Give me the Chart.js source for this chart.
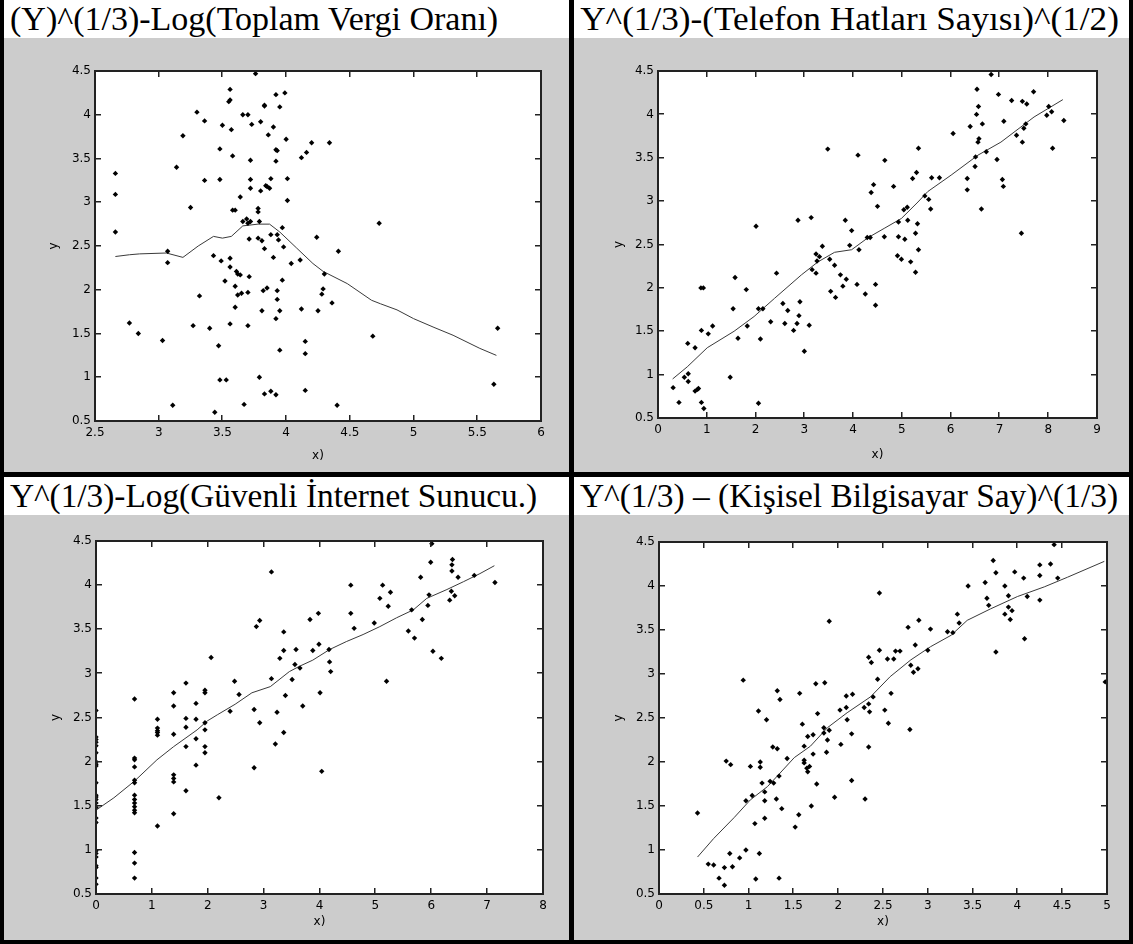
<!DOCTYPE html>
<html lang="tr">
<head>
<meta charset="UTF-8">
<title>Y^(1/3) saçılım grafikleri</title>
<script src="https://cdn.jsdelivr.net/npm/chart.js"></script>
<style>
    html, body { margin: 0; padding: 0; background: #000; }
    .sheet { position: relative; width: 1133px; height: 944px; background: #000; overflow: hidden; }
    .cell { position: absolute; background: #fff; overflow: hidden; }
    .cell h2 {
        margin: 0;
        height: 38px;
        line-height: 38px;
        padding-left: 6px;
        font-family: "Liberation Serif", "Times New Roman", serif;
        font-size: 34px;
        font-weight: normal;
        white-space: nowrap;
        color: #000;
        transform-origin: 0 50%;
    }
    .gray { position: absolute; left: 0; background: #ccc; }
    canvas { display: block; }
</style>
</head>
<body>
<div class="sheet">
    <div class="cell" style="left:4px;top:0;width:565px;height:472px">
        <h2>(Y)^(1/3)-Log(Toplam Vergi Oranı)</h2>
        <div class="gray" style="top:38px;width:565px;height:434px"><canvas id="c1" width="565" height="434"></canvas></div>
    </div>
    <div class="cell" style="left:574px;top:0;width:555px;height:472px">
        <h2 style="transform:scaleX(1.035)">Y^(1/3)-(Telefon Hatları Sayısı)^(1/2)</h2>
        <div class="gray" style="top:38px;width:555px;height:434px"><canvas id="c2" width="555" height="434"></canvas></div>
    </div>
    <div class="cell" style="left:4px;top:477px;width:565px;height:463px">
        <h2 style="transform:scaleX(0.98)">Y^(1/3)-Log(Güvenli İnternet Sunucu.)</h2>
        <div class="gray" style="top:38px;width:565px;height:425px"><canvas id="c3" width="565" height="425"></canvas></div>
    </div>
    <div class="cell" style="left:574px;top:477px;width:555px;height:463px">
        <h2 style="transform:scaleX(0.983)">Y^(1/3) – (Kişisel Bilgisayar Say)^(1/3)</h2>
        <div class="gray" style="top:38px;width:555px;height:425px"><canvas id="c4" width="555" height="425"></canvas></div>
    </div>
</div>

<script>
// --- data: [x, y] pairs ---
const vergiPoints = [
    [3.76,4.47],[3.56,4.29],[3.55,4.15],[3.56,4.17],[3.99,4.25],[3.92,4.23],[3.83,4.11],[3.83,4.10],[3.95,4.09],[3.30,4.03],
    [3.36,3.93],[3.66,4.00],[3.70,4.00],[3.73,3.89],[3.80,3.92],[3.50,3.88],[3.57,3.83],[3.90,3.86],[3.86,3.77],[3.19,3.76],
    [4.00,3.72],[3.48,3.61],[3.92,3.60],[3.93,3.59],[3.58,3.53],[3.14,3.40],[3.72,3.48],[3.92,3.47],[2.66,3.33],[3.36,3.25],
    [3.48,3.26],[3.72,3.26],[3.88,3.27],[4.01,3.27],[3.72,3.16],[3.80,3.13],[3.84,3.19],[3.85,3.18],[3.87,3.16],[2.66,3.09],
    [4.01,3.02],[3.64,3.06],[3.25,2.94],[3.58,2.91],[3.60,2.91],[3.78,2.93],[3.78,2.89],[3.69,2.81],[3.72,2.78],[3.70,2.76],
    [3.66,2.78],[3.79,2.78],[3.97,2.71],[2.66,2.66],[3.71,2.58],[3.78,2.59],[3.81,2.56],[3.88,2.63],[3.93,2.63],[3.94,2.57],
    [3.83,2.47],[3.98,2.49],[3.07,2.44],[3.07,2.31],[3.43,2.39],[3.49,2.33],[3.56,2.36],[3.90,2.37],[3.56,2.26],[3.61,2.21],
    [3.62,2.18],[3.64,2.17],[3.71,2.15],[3.52,2.10],[3.97,2.11],[3.60,2.04],[3.32,1.93],[3.62,1.94],[3.65,1.96],[3.70,1.97],
    [3.82,1.99],[3.85,2.02],[3.93,1.99],[3.93,1.89],[3.60,1.80],[3.81,1.76],[3.95,1.76],[3.92,1.67],[2.77,1.62],[2.84,1.50],
    [3.27,1.59],[3.40,1.56],[3.56,1.61],[3.70,1.59],[3.03,1.42],[3.47,1.36],[3.95,1.31],[3.79,1.00],[3.48,0.97],[3.53,0.97],
    [3.83,0.81],[3.88,0.84],[3.92,0.80],[3.11,0.68],[3.67,0.69],[3.44,0.60],
    [4.20,3.68],[4.34,3.68],[4.16,3.57],[4.12,3.51],[4.73,2.76],[4.24,2.60],[4.41,2.44],[4.04,2.30],[4.11,2.34],[4.30,2.18],
    [4.29,2.01],[4.28,1.95],[4.36,1.85],[4.12,1.78],[4.25,1.76],[4.68,1.47],[4.15,1.41],[4.15,1.27],[5.66,1.56],[5.63,0.92],
    [4.15,0.85],[4.40,0.68]
];
const vergiFit = [
    [2.66,2.38],[2.77,2.40],[2.85,2.41],[3.06,2.42],[3.19,2.37],[3.31,2.50],[3.43,2.61],[3.50,2.59],[3.57,2.61],[3.66,2.73],
    [3.78,2.75],[3.87,2.75],[3.95,2.66],[4.08,2.48],[4.21,2.30],[4.29,2.21],[4.48,2.07],[4.67,1.88],[4.74,1.84],[4.87,1.77],
    [5.00,1.67],[5.16,1.57],[5.31,1.48],[5.52,1.33],[5.65,1.25]
];

const telefonPoints = [
    [0.31,0.85],[0.43,0.68],[0.54,0.97],[0.62,1.01],[0.62,0.92],[0.61,1.36],[0.76,1.31],[0.76,0.81],[0.81,0.83],[0.83,0.84],
    [0.89,0.68],[0.94,0.61],[0.89,1.51],[0.88,2.00],[0.93,2.00],[1.03,1.47],[1.12,1.56],[1.48,0.97],[1.54,1.76],[1.58,2.12],
    [1.64,1.42],[1.81,1.98],[1.83,1.56],[2.01,2.71],[2.06,1.76],[2.15,1.76],[2.10,1.41],[2.06,0.67],[2.31,1.61],[2.43,2.17],
    [2.56,1.82],[2.60,1.59],[2.66,1.74],[2.78,1.51],[2.85,1.59],[2.87,2.78],[2.91,1.84],[2.89,1.68],[3.00,1.27],[3.10,1.57],
    [3.14,2.81],[3.16,2.21],[3.24,2.39],[3.26,2.31],[3.24,2.17],[3.31,2.36],[3.37,2.48],[3.48,3.60],[3.52,2.33],[3.54,1.96],
    [3.62,2.26],[3.64,1.89],[3.74,2.15],[3.79,2.02],[3.84,2.78],[3.86,2.10],[3.97,2.66],[3.93,2.49],[4.08,2.04],[4.10,3.53],
    [4.12,2.44],
    [6.83,4.46],[6.54,4.29],[6.98,4.23],[7.70,4.26],[7.25,4.16],[7.47,4.15],[7.56,4.12],[6.57,4.09],[6.53,4.00],[8.01,4.09],
    [8.07,4.03],[7.97,3.99],[8.32,3.93],[7.09,3.92],[6.65,3.89],[6.40,3.86],[7.54,3.89],[7.50,3.84],[6.05,3.78],[7.35,3.76],
    [6.58,3.72],[6.56,3.68],[7.47,3.68],[5.34,3.61],[8.09,3.61],[6.73,3.57],[6.51,3.51],[4.65,3.47],[6.95,3.48],[6.50,3.40],
    [5.30,3.33],[5.22,3.26],[5.61,3.27],[5.77,3.27],[6.34,3.26],[7.06,3.25],[4.42,3.19],[4.83,3.17],[7.08,3.17],[4.37,3.10],
    [6.34,3.13],[5.47,3.06],[5.55,3.02],[4.50,2.94],[5.11,2.93],[5.04,2.90],[5.59,2.91],[6.63,2.91],[5.12,2.78],[4.93,2.76],
    [5.32,2.74],[7.45,2.63],[5.28,2.63],[4.29,2.58],[4.35,2.58],[4.64,2.59],[4.93,2.59],[5.06,2.56],[5.34,2.44],[4.91,2.37],
    [4.99,2.33],[5.18,2.30],[5.28,2.18],[4.46,2.04],[4.25,1.93],[4.46,1.80]
];
const telefonFit = [
    [0.30,0.95],[0.60,1.09],[1.01,1.31],[1.56,1.50],[1.97,1.67],[2.39,1.88],[2.94,2.15],[3.28,2.30],[3.62,2.41],[3.97,2.44],
    [4.31,2.58],[4.65,2.69],[4.99,2.80],[5.33,2.99],[5.53,3.11],[6.01,3.30],[6.56,3.53],[7.03,3.68],[7.71,3.97],[8.30,4.17]
];

const internetPoints = [
    [0,2.58],[0,2.28],[0,2.25],[0,2.22],[0,2.18],[0,2.10],[0,2.00],[0,1.97],[0,1.95],[0,1.76],
    [0,1.62],[0,1.60],[0,1.57],[0,1.53],[0,1.48],[0,1.36],[0,1.31],[0,0.99],[0,0.96],[0,0.92],
    [0,0.82],[0,0.80],[0,0.68],[0,0.61],
    [0.69,2.71],[0.69,2.04],[0.69,2.02],[0.69,1.94],[0.69,1.79],[0.69,1.76],[0.69,1.62],[0.69,1.57],[0.69,1.53],[0.69,1.49],
    [0.69,1.45],[0.69,1.42],[0.69,0.97],[0.69,0.85],[0.69,0.68],
    [1.10,2.48],[1.10,2.38],[1.10,2.35],[1.10,2.33],[1.10,2.30],[1.10,1.27],
    [1.39,2.78],[1.39,2.63],[1.39,2.31],[1.39,1.85],[1.39,1.81],[1.39,1.77],[1.39,1.41],
    [1.61,2.89],[1.61,2.49],[1.61,2.39],[1.61,2.17],[1.61,1.67],
    [1.79,2.66],[1.79,2.48],[1.79,2.26],[1.79,1.96],
    [1.95,2.81],[1.95,2.78],[1.95,2.44],[1.95,2.36],[1.95,2.17],[1.95,2.10],
    [2.06,3.18],[2.20,1.59],[2.40,2.57],[2.48,2.91],[2.56,2.76],[2.83,2.59],[2.83,1.93],[2.87,3.53],[2.93,3.60],[2.93,2.44],
    [3.14,4.15],[3.14,2.94],[3.21,2.20],[3.24,2.56],[3.29,3.17],[3.36,3.47],[3.36,3.26],[3.36,2.33],[3.39,2.75],
    [6.01,4.47],[5.99,4.26],[6.38,4.29],[6.37,4.23],[6.37,4.16],[5.81,4.09],[6.48,4.09],[6.77,4.11],[7.14,4.03],[4.56,4.00],
    [5.13,4.00],[5.27,3.92],[5.96,3.89],[6.36,3.93],[6.42,3.88],[5.08,3.85],[5.94,3.77],[6.33,3.83],[5.23,3.76],[5.65,3.72],
    [3.98,3.68],[4.56,3.68],[3.83,3.61],[4.98,3.57],[5.84,3.61],[4.62,3.51],[5.59,3.48],[5.70,3.40],[3.99,3.33],[3.88,3.26],
    [3.58,3.27],[4.17,3.27],[6.03,3.25],[6.18,3.17],[4.18,3.13],[3.56,3.10],[3.65,3.06],[4.20,3.02],[3.51,2.93],[5.20,2.91],
    [4.01,2.78],[3.70,2.63],[4.04,1.89]
];
const internetFit = [
    [0,1.45],[0.32,1.59],[0.69,1.78],[1.09,2.02],[1.39,2.17],[1.81,2.36],[1.99,2.46],[2.17,2.53],[2.49,2.65],[2.79,2.78],
    [3.12,2.85],[3.46,3.02],[3.64,3.08],[3.88,3.15],[4.18,3.27],[4.48,3.36],[4.78,3.44],[5.08,3.53],[5.38,3.63],[5.68,3.72],
    [5.92,3.85],[6.28,3.95],[6.58,4.04],[6.87,4.13],[7.13,4.22]
];

const pcPoints = [
    [0.43,1.42],[0.55,0.84],[0.61,0.83],[0.67,0.68],[0.73,0.80],[0.73,0.60],[0.79,0.96],[0.82,0.81],[0.75,2.01],[0.80,1.97],
    [0.90,0.91],[0.94,2.93],[0.97,1.00],[0.97,1.56],[1.02,1.95],[1.04,1.62],[1.07,1.30],[1.08,0.67],[1.11,2.58],[1.12,0.96],
    [1.13,2.00],[1.13,1.94],[1.15,1.76],[1.18,1.66],[1.18,1.56],[1.18,1.36],[1.20,2.48],[1.24,1.78],[1.27,2.17],[1.28,1.76],
    [1.32,2.15],[1.31,1.58],[1.32,2.81],[1.34,1.84],[1.34,0.68],[1.35,2.71],[1.37,1.47],[1.43,2.04],[1.52,1.26],[1.56,1.40],
    [1.57,2.78],[1.60,2.43],[1.62,2.18],[1.62,2.02],[1.62,1.99],[1.65,1.93],[1.66,1.89],[1.68,1.95],[1.66,2.29],[1.70,1.50],
    [1.72,2.31],[1.72,2.09],[1.75,2.89],[1.77,2.55],[1.76,1.75],[1.84,2.39],[1.84,2.33],[1.85,2.90],[1.88,2.25],[1.87,2.11],
    [1.90,3.60],[1.90,2.36],[1.96,1.60],[2.02,2.59],[2.03,2.20],[2.09,2.75],[2.09,2.62],[2.10,2.48],[2.16,2.77],[2.15,2.32],
    [2.15,1.79],
    [4.41,4.47],[3.73,4.29],[3.76,4.15],[4.25,4.24],[4.37,4.25],[3.97,4.16],[4.07,4.09],[4.25,4.12],[4.45,4.09],[3.64,4.04],
    [3.45,4.00],[3.86,4.00],[2.46,3.92],[3.66,3.86],[3.90,3.89],[4.11,3.88],[3.68,3.78],[4.25,3.84],[3.90,3.76],[3.94,3.72],
    [3.86,3.68],[3.92,3.62],[3.33,3.68],[2.90,3.61],[3.35,3.58],[2.78,3.53],[3.03,3.51],[3.22,3.48],[3.28,3.47],[4.08,3.40],
    [2.86,3.33],[2.46,3.27],[2.64,3.26],[2.69,3.26],[3.00,3.27],[3.76,3.25],[2.34,3.19],[2.37,3.13],[2.55,3.17],[2.62,3.17],
    [2.81,3.10],[2.84,3.02],[2.89,3.06],[2.44,2.94],[4.98,2.91],[2.59,2.78],[2.39,2.74],[2.29,2.62],[2.34,2.66],[2.35,2.57],
    [2.52,2.59],[2.56,2.44],[2.80,2.37],[2.34,2.17],[2.30,1.58]
];
const pcFit = [
    [0.43,0.92],[0.61,1.13],[0.84,1.37],[1.02,1.57],[1.21,1.72],[1.32,1.84],[1.51,2.05],[1.69,2.18],[1.88,2.39],[2.10,2.56],
    [2.36,2.74],[2.58,2.97],[2.81,3.16],[3.03,3.31],[3.26,3.44],[3.44,3.61],[3.70,3.74],[4.00,3.88],[4.30,3.99],[4.56,4.10],
    [4.97,4.28]
];

// axis ranges / ticks
const yRange = [0.5, 4.5, 0.5];
const xRanges = {
    vergi:    [2.5, 6, 0.5],
    telefon:  [0, 9, 1],
    internet: [0, 8, 1],
    pc:       [0, 5, 0.5]
};

Chart.defaults.font.family = '"DejaVu Sans", Verdana, sans-serif';
Chart.defaults.font.size = 12;
Chart.defaults.color = '#000';

// white plot background
const plotBg = {
    id: 'plotBg',
    beforeDraw(chart) {
        const { ctx, chartArea: a } = chart;
        ctx.save();
        ctx.fillStyle = '#fff';
        ctx.fillRect(a.left, a.top, a.right - a.left, a.bottom - a.top);
        ctx.restore();
    }
};

// matlab style frame with inward ticks, painted with small rectangles
const boxTicks = {
    id: 'boxTicks',
    afterDraw(chart) {
        const ctx = chart.ctx;
        const a = chart.chartArea;
        const xs = chart.scales.x, ys = chart.scales.y;
        const L = 5, W = 2;
        const l = Math.round(a.left) - 1, r = Math.round(a.right) + 1;
        const t = Math.round(a.top) - 1, b = Math.round(a.bottom) + 1;
        ctx.save();
        ctx.globalCompositeOperation = 'source-over';
        ctx.globalAlpha = 1;
        ctx.fillStyle = '#222';
        ctx.fillRect(l, t, r - l, W);
        ctx.fillRect(l, b - W, r - l, W);
        ctx.fillRect(l, t, W, b - t);
        ctx.fillRect(r - W, t, W, b - t);
        xs.ticks.forEach(tk => {
            const px = Math.round(xs.getPixelForValue(tk.value));
            ctx.fillRect(px - 1, b - W - L, 1.5, L);
            ctx.fillRect(px - 1, t + W, 1.5, L);
        });
        ys.ticks.forEach(tk => {
            const py = Math.round(ys.getPixelForValue(tk.value));
            ctx.fillRect(l + W, py - 1, L, 1.5);
            ctx.fillRect(r - W - L, py - 1, L, 1.5);
        });
        ctx.restore();
    }
};

const toXY = arr => arr.map(p => ({ x: p[0], y: p[1] }));

function makeChart(id, points, fit, xr, box) {
    return new Chart(document.getElementById(id), {
        type: 'scatter',
        data: {
            datasets: [{
                data: toXY(points),
                pointStyle: 'rectRot',
                pointRadius: 2.7,
                pointBackgroundColor: '#000',
                pointBorderColor: '#000',
                pointBorderWidth: 0,
                showLine: false
            }, {
                data: toXY(fit),
                showLine: true,
                pointRadius: 0,
                borderColor: '#3a3a3a',
                borderWidth: 1,
                tension: 0
            }]
        },
        options: {
            responsive: false,
            animation: false,
            layout: { padding: { left: 0, top: box.top, right: box.right, bottom: 0 } },
            plugins: { legend: { display: false }, tooltip: { enabled: false } },
            scales: {
                x: {
                    type: 'linear', min: xr[0], max: xr[1],
                    grid: { display: false, drawTicks: false },
                    border: { display: false },
                    ticks: { stepSize: xr[2], padding: 5, autoSkip: false, maxRotation: 0, callback: v => String(v) },
                    title: { display: true, text: 'x)', padding: { top: 0, bottom: box.xt } },
                    afterFit: s => { s.height = box.bottom; }
                },
                y: {
                    type: 'linear', min: yRange[0], max: yRange[1],
                    grid: { display: false, drawTicks: false },
                    border: { display: false },
                    ticks: { stepSize: yRange[2], padding: 4, autoSkip: false, callback: v => String(v) },
                    title: { display: true, text: 'y', padding: { top: box.yt, bottom: 0 } },
                    afterFit: s => { s.width = box.left; }
                }
            }
        },
        plugins: [plotBg, boxTicks]
    });
}

makeChart('c1', vergiPoints, vergiFit, xRanges.vergi,
    { left: 91, top: 33, right: 28, bottom: 51, yt: 43, xt: 9 });
makeChart('c2', telefonPoints, telefonFit, xRanges.telefon,
    { left: 84, top: 33, right: 32, bottom: 54, yt: 38, xt: 10 });
makeChart('c3', internetPoints, internetFit, xRanges.internet,
    { left: 92, top: 26, right: 26, bottom: 46, yt: 45, xt: 11 });
makeChart('c4', pcPoints, pcFit, xRanges.pc,
    { left: 85, top: 27, right: 22, bottom: 46, yt: 38, xt: 11 });
</script>
</body>
</html>
